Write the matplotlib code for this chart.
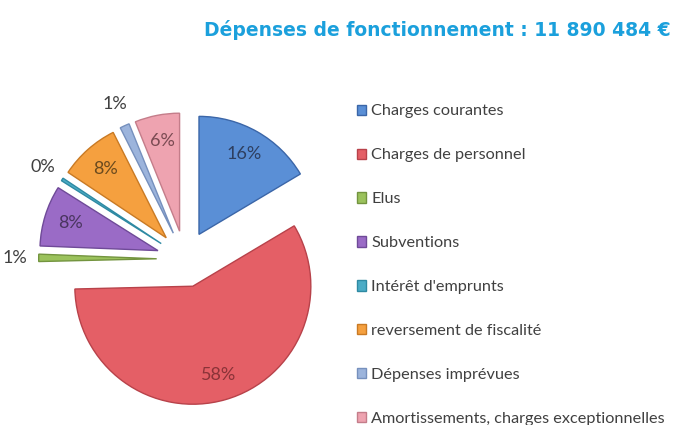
import matplotlib.pyplot as plt
import numpy as np

# dépenses de fonctionnement, parts en %
categories = ["Charges courantes", "Charges de personnel", "Elus", "Subventions",
              "Intérêt d'emprunts", "reversement de fiscalité", "Dépenses imprévues",
              "Amortissements, charges exceptionnelles"]
shares = [16.4, 58.0, 1.0, 8.3, 0.4, 8.2, 1.3, 6.1]
colors = ["#5a8fd6", "#e45f66", "#9bc25c", "#9a6bc6",
          "#4bacc6", "#f5a03f", "#9cb4dc", "#eea3b0"]
edges = ["#3b66a8", "#b8424a", "#73943f", "#6f4a98",
         "#2f8aa3", "#c97a24", "#7690bd", "#c47d8a"]
label_colors = ["#2e3f60", "#8a3338", "#404040", "#4a3560",
                "#404040", "#6a4a1e", "#404040", "#7a4a52"]
title = "Dépenses de fonctionnement : 11 890 484 €"

fig = plt.figure(figsize=(6.81, 4.25), dpi=100)
fig.patch.set_facecolor("white")

# pie centre ~ (185, 259) px, radius ~118 px
R = 118.0
ax = fig.add_axes([0, 0, 370 / 681, 332 / 425])
wedges, texts, autotexts = ax.pie(
    shares, colors=colors, startangle=90, counterclock=False,
    explode=[0.24] * len(shares), autopct="%.0f%%", pctdistance=0.78,
    wedgeprops=dict(linewidth=1.0),
    textprops=dict(fontsize=13, family="Lato"))
ax.set_xlim(-185 / R, 185 / R)
ax.set_ylim(-166 / R, 166 / R)

for w, t, ec, lc, v in zip(wedges, autotexts, edges, label_colors, shares):
    w.set_edgecolor(ec)
    t.set_color(lc)
    if v < 2:
        ang = np.deg2rad((w.theta1 + w.theta2) / 2)
        cx, cy = w.center
        t.set_position((cx + 1.2 * np.cos(ang), cy + 1.2 * np.sin(ang)))

fig.text(0.985, 0.93, title, ha="right", va="center", color="#1ba0dc",
         fontsize=13.5, family="DejaVu Sans", fontweight="bold")

fig.legend(wedges, categories, loc="upper left",
           bbox_to_anchor=(350 / 681, 1 - 98 / 425), frameon=False,
           prop=dict(family="Lato", size=11.7), labelcolor="#404040",
           handlelength=0.6, handleheight=0.6, handletextpad=0.3,
           labelspacing=1.84, borderaxespad=0)

fig.savefig("out.png", dpi=100)
